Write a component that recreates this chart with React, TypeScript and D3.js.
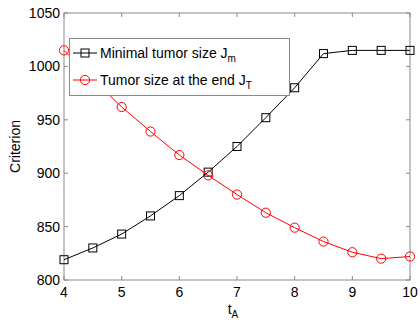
import React from "react";
import * as d3 from "d3";

const tA = [4, 4.5, 5, 5.5, 6, 6.5, 7, 7.5, 8, 8.5, 9, 9.5, 10];
const jMin = [819, 830, 843, 860, 879, 901, 925, 952, 980, 1012, 1015, 1015, 1015];
const jEnd = [1015, 988, 962, 939, 917, 898, 880, 863, 849, 836, 826, 820, 822];
const xTicks = [4, 5, 6, 7, 8, 9, 10];
const yTicks = [800, 850, 900, 950, 1000, 1050];

const W = 420, H = 320;
const L = 64, R = 410, T = 13, B = 280;
const font = "Liberation Sans, Arial, Helvetica, sans-serif";
const axisColor = "#8a8a8a";

export default function App() {
  const x = d3.scaleLinear().domain([4, 10]).range([L, R]);
  const y = d3.scaleLinear().domain([800, 1050]).range([B, T]);
  const line = d3.line<number>().x((_, i) => x(tA[i])).y((d) => y(d));
  const tl = 4;
  return (
    <svg width={W} height={H} style={{ position: "absolute", left: 0, top: 0 }} fontFamily={font}>
      <rect x={0} y={0} width={W} height={H} fill="#fff" />
      <rect x={L} y={T} width={R - L} height={B - T} fill="#fff" stroke={axisColor} strokeWidth={1} />
      {xTicks.map((t) => (
        <g key={"x" + t}>
          <line x1={x(t)} x2={x(t)} y1={B} y2={B - tl} stroke={axisColor} />
          <line x1={x(t)} x2={x(t)} y1={T} y2={T + tl} stroke={axisColor} />
          <text x={x(t)} y={297} fontSize={14} textAnchor="middle" fill="#000">{t}</text>
        </g>
      ))}
      {yTicks.map((t) => (
        <g key={"y" + t}>
          <line x1={L} x2={L + tl} y1={y(t)} y2={y(t)} stroke={axisColor} />
          <line x1={R} x2={R - tl} y1={y(t)} y2={y(t)} stroke={axisColor} />
          <text x={60} y={y(t) + 5} fontSize={14} textAnchor="end" fill="#000">{t}</text>
        </g>
      ))}
      <text transform={`translate(20,${(T + B) / 2}) rotate(-90)`} fontSize={14} textAnchor="middle" fill="#000">Criterion</text>
      <text x={(L + R) / 2 - 4} y={314} fontSize={14} fill="#000" textAnchor="middle">
        t<tspan fontSize={10} dy={4}>A</tspan>
      </text>
      <path d={line(jMin) || ""} fill="none" stroke="#000" strokeWidth={1} />
      {jMin.map((v, i) => (
        <rect key={"s" + i} x={x(tA[i]) - 4} y={y(v) - 4} width={8} height={8} fill="none" stroke="#000" strokeWidth={1} />
      ))}
      <path d={line(jEnd) || ""} fill="none" stroke="#ff0000" strokeWidth={1} />
      {jEnd.map((v, i) => (
        <circle key={"c" + i} cx={x(tA[i])} cy={y(v)} r={4.6} fill="none" stroke="#ff0000" strokeWidth={1} />
      ))}
      <g>
        <rect x={69.5} y={38.5} width={220} height={57} fill="#fff" stroke={axisColor} strokeWidth={1} />
        <line x1={73} x2={97} y1={53} y2={53} stroke="#000" />
        <rect x={81} y={49} width={8} height={8} fill="none" stroke="#000" />
        <text x={100} y={58} fontSize={14} fill="#000">
          Minimal tumor size J<tspan fontSize={10} dy={4}>m</tspan>
        </text>
        <line x1={73} x2={97} y1={80} y2={80} stroke="#ff0000" />
        <circle cx={85} cy={80} r={4.6} fill="none" stroke="#ff0000" />
        <text x={100} y={85} fontSize={14} fill="#000">
          Tumor size at the end J<tspan fontSize={10} dy={4}>T</tspan>
        </text>
      </g>
    </svg>
  );
}
